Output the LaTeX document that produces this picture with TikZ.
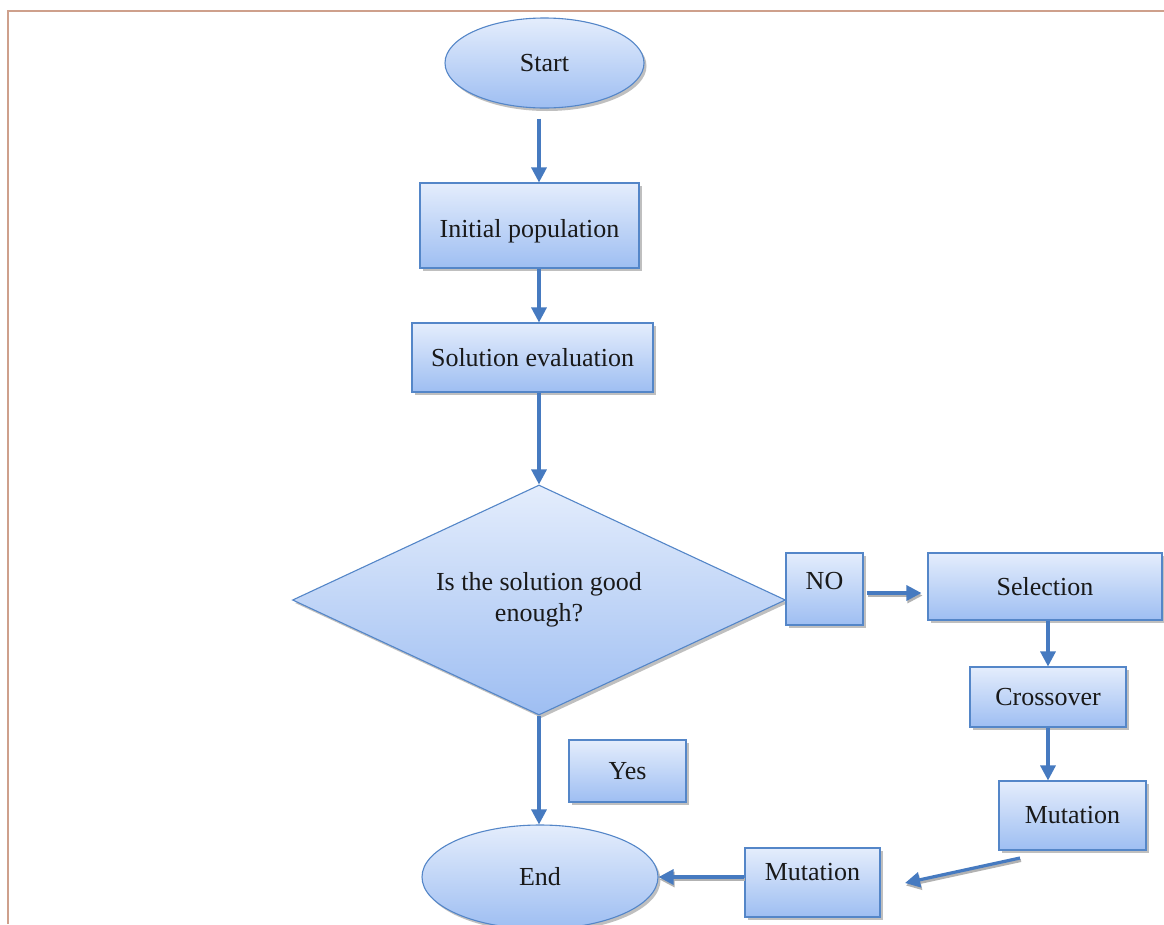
\documentclass[tikz,border=0pt]{standalone}
\usepackage{fontspec}
\setmainfont{Liberation Serif}
\usetikzlibrary{shapes.geometric,shadows,arrows.meta}
\definecolor{edgec}{RGB}{84,134,200}
\definecolor{ftop}{RGB}{228,237,252}
\definecolor{fbot}{RGB}{158,190,242}
\definecolor{framec}{RGB}{206,160,140}
\definecolor{arrc}{RGB}{70,122,192}
\begin{document}
\begin{tikzpicture}[x=1pt,y=-1pt,
 base/.style={draw=edgec, line width=1.1pt, top color=ftop, bottom color=fbot,
   drop shadow={shadow xshift=2.5pt, shadow yshift=-3pt, fill=black!45, opacity=0.55},
   font=\fontsize{26}{31}\selectfont, inner sep=0pt, text=black!90},
 box/.style={base, rectangle},
 oval/.style={base, ellipse},
 arr/.style={draw=arrc, line width=3.2pt, -{Triangle[width=15pt,length=15pt]}},
 sarr/.style={arr, preaction={draw=black!30, line width=3pt, -{Triangle[width=15pt,length=15pt]}, transform canvas={shift={(1pt,-2.5pt)}}}},
]
\useasboundingbox (0,0) rectangle (1164,924);
\fill[white] (0,0) rectangle (1164,924);
\draw[framec, line width=2pt] (8,924) -- (8,11) -- (1164,11);

\node[oval, minimum width=199pt, minimum height=90pt] (start) at (544.5,63) {Start};
\node[box, minimum width=219pt, minimum height=85pt, text height=24pt, text depth=0pt] (init) at (529.5,225.5) {Initial population};
\node[box, minimum width=241pt, minimum height=69pt] (eval) at (532.5,357.5) {Solution evaluation};
\node[base, diamond, minimum width=493pt, minimum height=230pt, aspect=2.14, align=center] (dec) at (539,600) {Is the solution good\\enough?};
\node[box, minimum width=77pt, minimum height=72pt, text height=17pt, text depth=17pt] (no) at (824.5,589) {NO};
\node[box, minimum width=234pt, minimum height=67pt] (sel) at (1045,586.5) {Selection};
\node[box, minimum width=156pt, minimum height=60pt] (cross) at (1048,697) {Crossover};
\node[box, minimum width=147pt, minimum height=69pt] (mut1) at (1072.5,815.5) {Mutation};
\node[box, minimum width=135pt, minimum height=69pt, text height=17pt, text depth=21pt] (mut2) at (812.5,882.5) {Mutation};
\node[box, minimum width=117pt, minimum height=62pt] (yes) at (627.5,771) {Yes};
\node[oval, minimum width=236pt, minimum height=104pt] (end) at (540,877) {End};

\coordinate (m1out) at (1020,858);
\coordinate (m2in) at (905,883);

\draw[arr, shorten <=10pt] (start.south -| dec.north) -- (init.north -| dec.north);
\draw[arr] (init.south -| dec.north) -- (eval.north -| dec.north);
\draw[arr] (eval.south -| dec.north) -- (dec.north);
\draw[sarr, shorten <=3pt, shorten >=6pt] (no.east |- 0,593) -- (sel.west |- 0,593);
\draw[arr] (sel.south -| cross.north) -- (cross.north);
\draw[arr] (cross.south) -- (cross.south |- mut1.north);
\draw[sarr] (m1out) -- (m2in);
\draw[sarr] (mut2.west |- end.east) -- (end.east);
\draw[arr] (dec.south) -- (dec.south |- end.north);
\end{tikzpicture}
\end{document}
